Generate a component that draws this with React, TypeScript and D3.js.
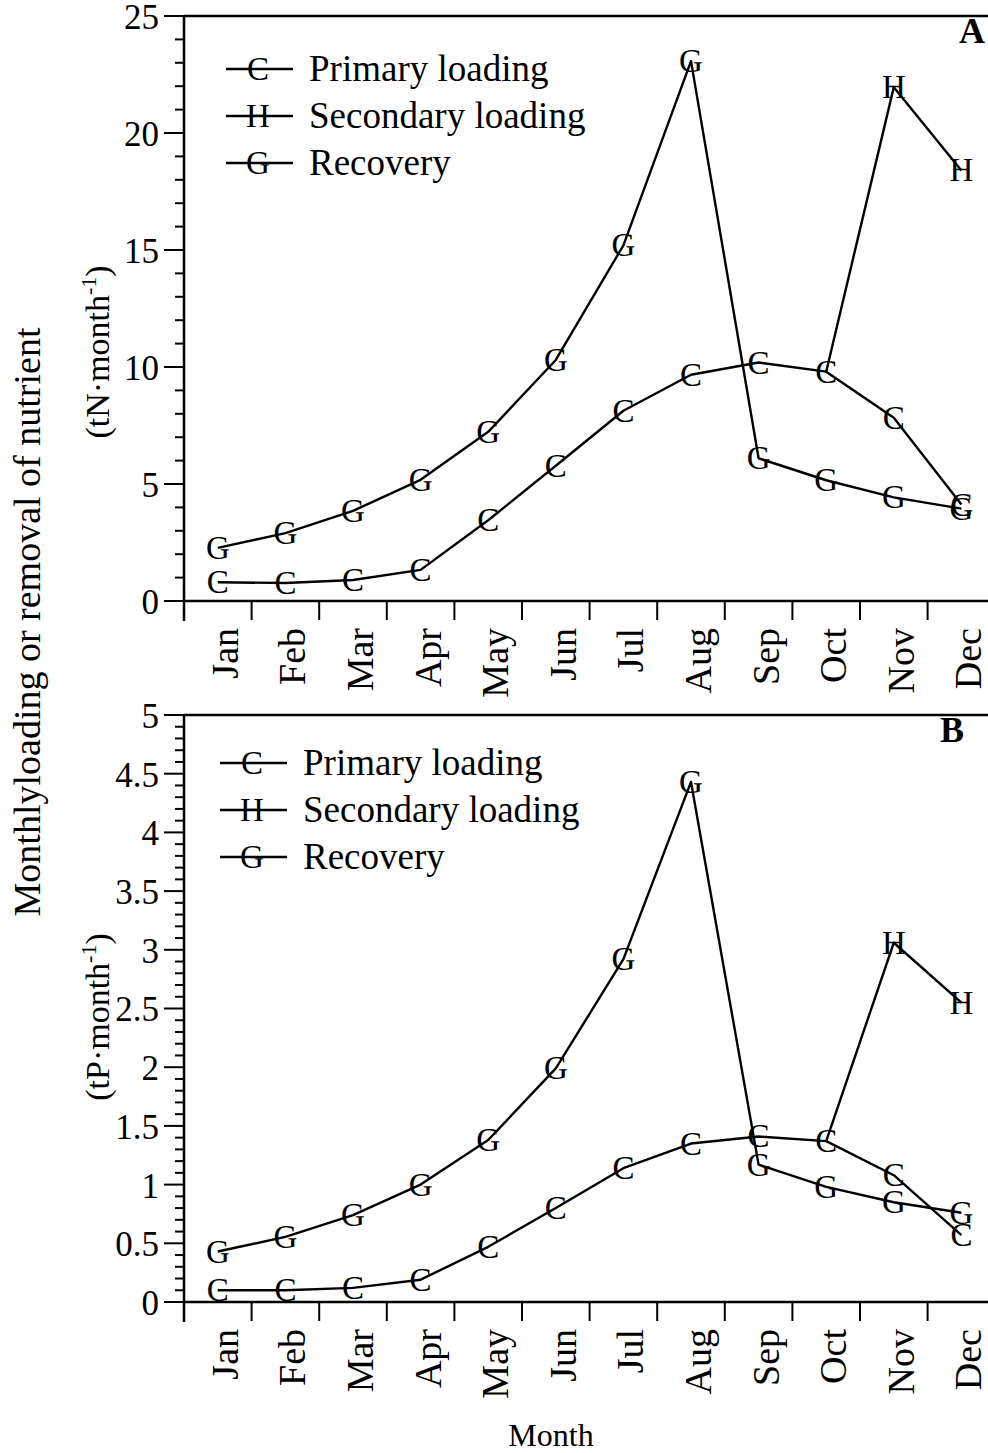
import { useEffect, useRef } from 'react';
import * as d3 from 'd3';

const months = ['Jan', 'Feb', 'Mar', 'Apr', 'May', 'Jun', 'Jul', 'Aug', 'Sep', 'Oct', 'Nov', 'Dec'];

// panel A, nitrogen (tN/month)
const primaryN = [0.8, 0.77, 0.9, 1.33, 3.45, 5.78, 8.13, 9.67, 10.19, 9.8, 7.83, 4.12];
const secondaryN = [null, null, null, null, null, null, null, null, null, 9.8, 21.96, 18.4];
const recoveryN = [2.27, 2.9, 3.85, 5.18, 7.23, 10.3, 15.2, 23.07, 6.1, 5.16, 4.43, 3.95];

// panel B, phosphorus (tP/month)
const primaryP = [0.1, 0.1, 0.12, 0.19, 0.47, 0.8, 1.14, 1.35, 1.41, 1.37, 1.08, 0.57];
const secondaryP = [null, null, null, null, null, null, null, null, null, 1.37, 3.06, 2.55];
const recoveryP = [0.43, 0.555, 0.74, 1.0, 1.38, 1.99, 2.92, 4.43, 1.17, 0.98, 0.85, 0.76];

const seriesNames = ['Primary loading', 'Secondary loading', 'Recovery'];
const seriesGlyphs = ['C', 'H', 'G'];

const FONT = '"Liberation Serif", "Times New Roman", serif';
const W = 988;
const H = 1453;

interface PanelSpec {
  top: number;
  bottom: number;
  max: number;
  major: number;
  minor: number;
  series: (number | null)[][];
  letter: string;
  unit: string;
  unitY: number;
  legendX: number;
  legendY: number;
  letterX: number;
}

const panels: PanelSpec[] = [
  {
    top: 16, bottom: 601, max: 25, major: 5, minor: 1,
    series: [primaryN, secondaryN, recoveryN],
    letter: 'A', unit: 'N', unitY: 352, legendX: 226, legendY: 69, letterX: 985,
  },
  {
    top: 715, bottom: 1302, max: 5, major: 0.5, minor: 0.1,
    series: [primaryP, secondaryP, recoveryP],
    letter: 'B', unit: 'P', unitY: 1017, legendX: 220, legendY: 763, letterX: 964,
  },
];

export default function App() {
  const svgRef = useRef<SVGSVGElement>(null);

  useEffect(() => {
    if (!svgRef.current) return;
    const svg = d3.select(svgRef.current);
    svg.selectAll('*').remove();

    const left = 184;
    const step = 67.6;
    const x = d3.scaleBand<string>().domain(months).range([left, left + step * 12]);
    const xc = (m: string) => x(m)! + x.bandwidth() / 2;

    panels.forEach((p) => {
      const y = d3.scaleLinear().domain([0, p.max]).range([p.bottom, p.top]);
      const g = svg.append('g');

      // frame: top line, x axis, y axis
      g.append('line').attr('x1', left).attr('x2', W).attr('y1', p.top).attr('y2', p.top)
        .attr('stroke', '#000').attr('stroke-width', 2.5);
      g.append('line').attr('x1', left).attr('x2', W).attr('y1', p.bottom).attr('y2', p.bottom)
        .attr('stroke', '#000').attr('stroke-width', 2.5);
      g.append('line').attr('x1', left).attr('x2', left).attr('y1', p.top).attr('y2', p.bottom + 20)
        .attr('stroke', '#000').attr('stroke-width', 2.5);

      // y ticks
      const nMinor = Math.round(p.max / p.minor);
      const minorVals = d3.range(0, nMinor + 1).map((i) => +(i * p.minor).toFixed(2));
      const majorVals = minorVals.filter((v) => Math.abs(v / p.major - Math.round(v / p.major)) < 1e-6);
      g.selectAll('.ytick')
        .data(minorVals)
        .enter()
        .append('line')
        .attr('x1', (v) => (majorVals.includes(v) ? left - 20 : left - 9))
        .attr('x2', left)
        .attr('y1', (v) => y(v))
        .attr('y2', (v) => y(v))
        .attr('stroke', '#000')
        .attr('stroke-width', 2);
      g.selectAll('.ylab')
        .data(majorVals)
        .enter()
        .append('text')
        .attr('x', left - 25)
        .attr('y', (v) => y(v))
        .attr('dy', '0.37em')
        .attr('text-anchor', 'end')
        .attr('font-family', FONT)
        .attr('font-size', 35)
        .text((v) => d3.format('~g')(v));

      // x ticks at band edges
      const edges = months.map((m) => x(m)!);
      g.selectAll('.xtick')
        .data(edges.slice(1))
        .enter()
        .append('line')
        .attr('x1', (v) => v)
        .attr('x2', (v) => v)
        .attr('y1', p.bottom)
        .attr('y2', p.bottom + 19)
        .attr('stroke', '#000')
        .attr('stroke-width', 2);
      g.selectAll('.xlab')
        .data(months)
        .enter()
        .append('text')
        .attr('transform', (m) => `translate(${xc(m) + 20},${p.bottom + 27}) rotate(-90)`)
        .attr('text-anchor', 'end')
        .attr('font-family', FONT)
        .attr('font-size', 38)
        .text((m) => m);

      // lines + glyph markers
      const line = d3
        .line<number | null>()
        .defined((d) => d != null)
        .x((_, i) => xc(months[i]))
        .y((d) => y(d as number));

      p.series.forEach((vals) => {
        g.append('path')
          .datum(vals)
          .attr('d', line)
          .attr('fill', 'none')
          .attr('stroke', '#000')
          .attr('stroke-width', 2.4)
          .attr('stroke-linejoin', 'round');
      });
      p.series.forEach((vals, si) => {
        const pts = vals
          .map((v, i) => ({ v, m: months[i] }))
          .filter((d) => d.v != null && !(si === 1 && d.m === 'Oct'));
        g.selectAll(`.mk${si}`)
          .data(pts)
          .enter()
          .append('text')
          .attr('x', (d) => xc(d.m))
          .attr('y', (d) => y(d.v as number) + 11)
          .attr('text-anchor', 'middle')
          .attr('font-family', FONT)
          .attr('font-size', 33)
          .text(seriesGlyphs[si]);
      });

      // legend
      seriesNames.forEach((name, i) => {
        const ly = p.legendY + i * 47;
        g.append('line').attr('x1', p.legendX).attr('x2', p.legendX + 67).attr('y1', ly).attr('y2', ly)
          .attr('stroke', '#000').attr('stroke-width', 2.4);
        g.append('text').attr('x', p.legendX + 32).attr('y', ly + 11).attr('text-anchor', 'middle')
          .attr('font-family', FONT).attr('font-size', 33).text(seriesGlyphs[i]);
        g.append('text').attr('x', p.legendX + 83).attr('y', ly + 12)
          .attr('font-family', FONT).attr('font-size', 37).text(name);
      });

      // panel letter
      g.append('text').attr('x', p.letterX).attr('y', p.top + 27).attr('text-anchor', 'end')
        .attr('font-family', FONT).attr('font-size', 36).attr('font-weight', 'bold').text(p.letter);

      // unit label
      const ut = g.append('text')
        .attr('transform', `translate(109,${p.unitY}) rotate(-90)`)
        .attr('text-anchor', 'middle')
        .attr('font-family', FONT)
        .attr('font-size', 34);
      ut.append('tspan').text(`(t${p.unit}\u00b7month`);
      ut.append('tspan').attr('dy', -13).attr('font-size', 22).text('-1');
      ut.append('tspan').attr('dy', 13).text(')');
    });

    // shared titles
    svg.append('text')
      .attr('transform', 'translate(40,622) rotate(-90)')
      .attr('text-anchor', 'middle')
      .attr('font-family', FONT)
      .attr('font-size', 38)
      .text('Monthlyloading or removal of nutrient');
    svg.append('text')
      .attr('x', 551)
      .attr('y', 1446)
      .attr('text-anchor', 'middle')
      .attr('font-family', FONT)
      .attr('font-size', 32)
      .text('Month');
  }, []);

  return (
    <div style={{ position: 'absolute', left: 0, top: 0 }}>
      <svg ref={svgRef} width={W} height={H} style={{ display: 'block', background: '#fff' }} />
    </div>
  );
}
